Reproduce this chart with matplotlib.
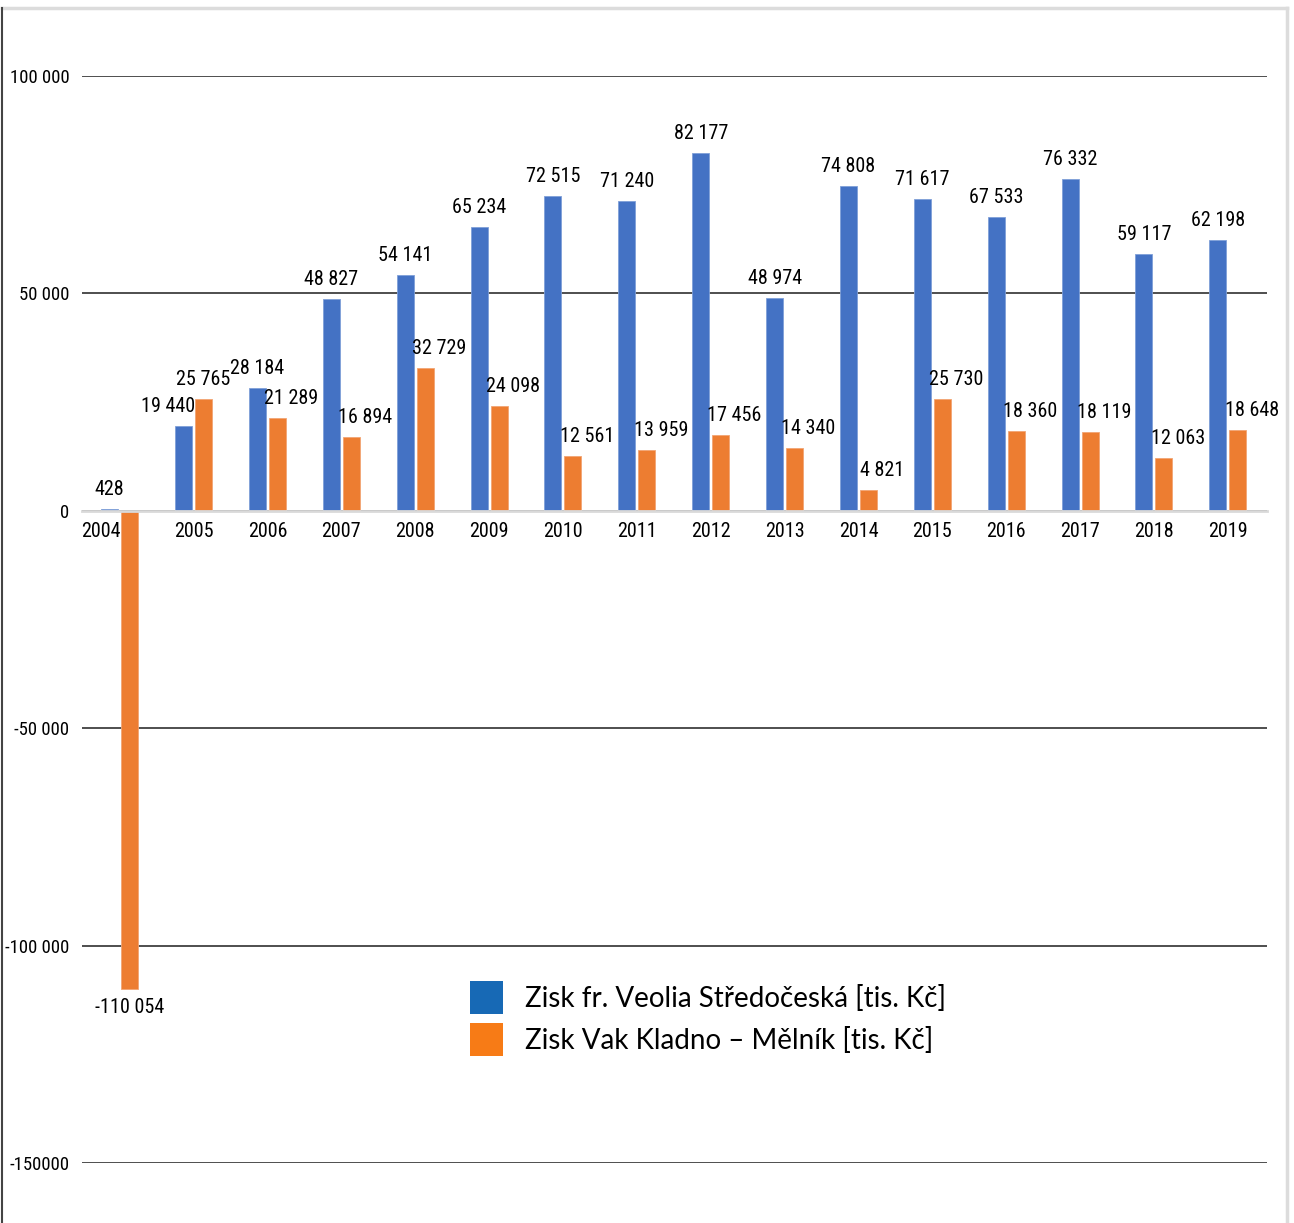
import matplotlib
matplotlib.use("Agg")
import matplotlib.pyplot as plt
from matplotlib.patches import Patch
from matplotlib.lines import Line2D
import matplotlib.transforms as mtransforms
import numpy as np

years = ["2004", "2005", "2006", "2007", "2008", "2009", "2010", "2011",
         "2012", "2013", "2014", "2015", "2016", "2017", "2018", "2019"]
veolia = [428, 19440, 28184, 48827, 54141, 65234, 72515, 71240,
          82177, 48974, 74808, 71617, 67533, 76332, 59117, 62198]
vak = [-110054, 25765, 21289, 16894, 32729, 24098, 12561, 13959,
       17456, 14340, 4821, 25730, 18360, 18119, 12063, 18648]
y_ticks = [-150000, -100000, -50000, 0, 50000, 100000]
y_tick_labels = ["-150000", "-100 000", "-50 000", "0", "50 000", "100 000"]
series_names = ["Zisk fr. Veolia Středočeská [tis. Kč]",
                "Zisk Vak Kladno – Mělník [tis. Kč]"]

# label nudges in pixels (style only)
blue_dx = [0, -16] + [0] * 14
orange_dx = [0, 0] + [14] * 14

NARROW = ["Roboto Condensed", "Noto Sans Condensed", "Open Sans Condensed",
          "Liberation Sans Narrow", "DejaVu Sans Condensed", "DejaVu Sans"]
plt.rcParams["font.family"] = NARROW
plt.rcParams["font.stretch"] = "condensed"
FS = 14.5
BLUE = "#4472C4"
ORANGE = "#ED7D31"

def fmt(v):
    s = f"{abs(v):,}".replace(",", " ")
    return ("-" if v < 0 else "") + s

fig = plt.figure(figsize=(12.94, 12.23), dpi=100)
W, H = 1294, 1223
ax = fig.add_axes([82 / W, 1 - 1163 / H, (1267 - 82) / W, (1163 - 76) / H])

x = np.arange(len(years))
bw = 0.23
off = 0.135
ax.bar(x - off, veolia, bw, color=BLUE, edgecolor="#7f9fd8", linewidth=0.6, zorder=3)
ax.bar(x + off, vak, bw, color=ORANGE, edgecolor="#f2a574", linewidth=0.6, zorder=3)

for s in ["top", "right", "left"]:
    ax.spines[s].set_visible(False)
ax.spines["bottom"].set_position(("data", 0))
ax.spines["bottom"].set_color("#d9d9d9")
ax.spines["bottom"].set_linewidth(2)
ax.spines["bottom"].set_zorder(4)

ax.set_xlim(-0.51, 15.53)
ax.set_ylim(-150000, 100000)
ax.set_yticks(y_ticks)
ax.set_yticklabels(y_tick_labels)
ax.set_xticks(x)
ax.set_xticklabels(years)
ax.tick_params(axis="both", length=0)
ax.tick_params(axis="x", pad=8, labelsize=FS)
ax.tick_params(axis="y", pad=9, labelsize=13.5)
ax.yaxis.grid(True, color="#303030", linewidth=1.2, zorder=0)
ax.set_axisbelow(True)

# nudge the 2004 label left of the negative bar
lab = ax.get_xticklabels()[0]
lab.set_transform(lab.get_transform() + mtransforms.ScaledTranslation(-19 / 100, 0, fig.dpi_scale_trans))

for i, v in enumerate(veolia):
    ax.annotate(fmt(v), (x[i] - off, v), xytext=(blue_dx[i], 10), textcoords="offset pixels",
                ha="center", va="bottom", fontsize=FS, zorder=5)
for i, v in enumerate(vak):
    if v >= 0:
        ax.annotate(fmt(v), (x[i] + off, v), xytext=(orange_dx[i], 10), textcoords="offset pixels",
                    ha="center", va="bottom", fontsize=FS, zorder=5)
    else:
        ax.annotate(fmt(v), (x[i] + off, v), xytext=(orange_dx[i], -9), textcoords="offset pixels",
                    ha="center", va="top", fontsize=FS, zorder=5)

handles = [Patch(facecolor="#1769B5", edgecolor="none"),
           Patch(facecolor="#F77B16", edgecolor="none")]
fig.legend(handles, series_names, loc="upper left",
           bbox_to_anchor=(470 / W, 1 - 981 / H), frameon=False,
           prop={"family": ["Lato", "DejaVu Sans"], "size": 20, "stretch": "normal"},
           handlelength=1.19, handleheight=1.45, handletextpad=0.8,
           labelspacing=0.34, borderpad=0, borderaxespad=0)

# outer frame lines
fig.add_artist(Line2D([2 / W, 1287 / W], [1 - 8 / H, 1 - 8 / H], color="#dcdcdc", lw=2.5))
fig.add_artist(Line2D([2 / W, 2 / W], [0, 1 - 8 / H], color="#444444", lw=1.5))
fig.add_artist(Line2D([1287 / W, 1287 / W], [0, 1 - 8 / H], color="#dcdcdc", lw=2.5))

fig.savefig("out.png", dpi=100)
